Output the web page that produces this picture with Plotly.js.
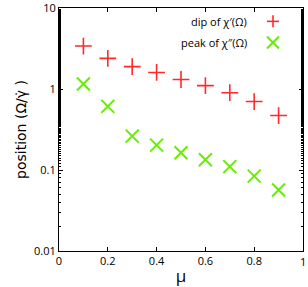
<!DOCTYPE html>
<html>
<head>
<meta charset="utf-8">
<script src="https://cdn.plot.ly/plotly-3.0.1.min.js"></script>
<style>html,body{margin:0;padding:0;background:#fff;}#chart{width:308px;height:287px;}</style>
</head>
<body>
<div id="chart"></div>
<script>
var mu = [0.1, 0.2, 0.3, 0.4, 0.5, 0.6, 0.7, 0.8, 0.9];
var dipValues = [3.39, 2.39, 1.89, 1.60, 1.31, 1.10, 0.90, 0.70, 0.47];
var peakValues = [1.15, 0.61, 0.262, 0.203, 0.163, 0.134, 0.110, 0.084, 0.0565];
var dipLabel = "dip of χ′(Ω)";
var peakLabel = "peak of χ″(Ω)";
var xTickVals = [0, 0.2, 0.4, 0.6, 0.8, 1];
var xTickText = ["0", "0.2", "0.4", "0.6", "0.8", ""];
var xLastTick = 1, xLastTickText = "1";
var yTickVals = [0.01, 0.1, 1, 10];
var yTickText = ["0.01", "0.1", "1", "10"];

var red = "#ff2a2a", green = "#66ee00";
var font = "Open Sans, Lato, DejaVu Sans, sans-serif";

var traces = [
  {x: mu, y: dipValues, mode: "markers", type: "scatter", name: dipLabel, cliponaxis: false,
   marker: {symbol: "cross-thin", size: 12, line: {color: red, width: 1.6}, color: red}},
  {x: mu, y: peakValues, mode: "markers", type: "scatter", name: peakLabel, cliponaxis: false,
   marker: {symbol: "x-thin", size: 13, line: {color: green, width: 2}, color: green}}
];

var lx = 0.877, ly1 = 0.945, ly2 = 0.858;
var layout = {
  width: 308, height: 287,
  margin: {l: 59, r: 5, t: 8, b: 36, autoexpand: false},
  paper_bgcolor: "#fff", plot_bgcolor: "#fff",
  showlegend: false,
  font: {family: font, size: 11, color: "#000"},
  xaxis: {range: [0, 1], tickvals: xTickVals, ticktext: xTickText, ticks: "inside", ticklen: 4, tickwidth: 1,
          tickcolor: "#000", showline: true, linecolor: "#000", linewidth: 1, mirror: "ticks",
          showgrid: false, zeroline: false, tickfont: {size: 11, family: font},
          ticklabeloverflow: "allow", automargin: false,
          title: {text: "μ", font: {size: 17, family: font}, standoff: 4}},
  yaxis: {type: "log", range: [-2, 1], tickvals: yTickVals, ticktext: yTickText,
          ticks: "inside", ticklen: 4, tickwidth: 1, tickcolor: "#000",
          ticklabeloverflow: "allow", automargin: false,
          minor: {ticks: "inside", ticklen: 2, tickcolor: "#000", showgrid: false},
          showline: true, linecolor: "#000", linewidth: 1, mirror: "ticks",
          showgrid: false, zeroline: false, tickfont: {size: 11, family: font},
          title: {text: "position (Ω/γ̇ )", font: {size: 14, family: "DejaVu Sans, sans-serif"}, standoff: 4}},
  annotations: [
    {xref: "paper", yref: "paper", x: 0.78, y: ly1, text: dipLabel, showarrow: false,
     xanchor: "right", yanchor: "middle", font: {size: 11, family: font}},
    {xref: "paper", yref: "paper", x: 0.78, y: ly2, text: peakLabel, showarrow: false,
     xanchor: "right", yanchor: "middle", font: {size: 11, family: font}},
    {xref: "x", yref: "paper", x: xLastTick, y: 0, text: xLastTickText, showarrow: false,
     xanchor: "center", yanchor: "top", yshift: -2, borderpad: 0, font: {size: 11, family: font}}
  ],
  shapes: [
    {type: "line", xref: "paper", yref: "paper", xsizemode: "pixel", ysizemode: "pixel",
     xanchor: lx, yanchor: ly1, x0: -6, x1: 6, y0: 0, y1: 0, line: {color: red, width: 1.6}},
    {type: "line", xref: "paper", yref: "paper", xsizemode: "pixel", ysizemode: "pixel",
     xanchor: lx, yanchor: ly1, x0: 0, x1: 0, y0: -6, y1: 6, line: {color: red, width: 1.6}},
    {type: "line", xref: "paper", yref: "paper", xsizemode: "pixel", ysizemode: "pixel",
     xanchor: lx, yanchor: ly2, x0: -6, x1: 6, y0: -6, y1: 6, line: {color: green, width: 2}},
    {type: "line", xref: "paper", yref: "paper", xsizemode: "pixel", ysizemode: "pixel",
     xanchor: lx, yanchor: ly2, x0: -6, x1: 6, y0: 6, y1: -6, line: {color: green, width: 2}}
  ]
};
Plotly.newPlot("chart", traces, layout, {displayModeBar: false, staticPlot: true});
</script>
</body>
</html>
